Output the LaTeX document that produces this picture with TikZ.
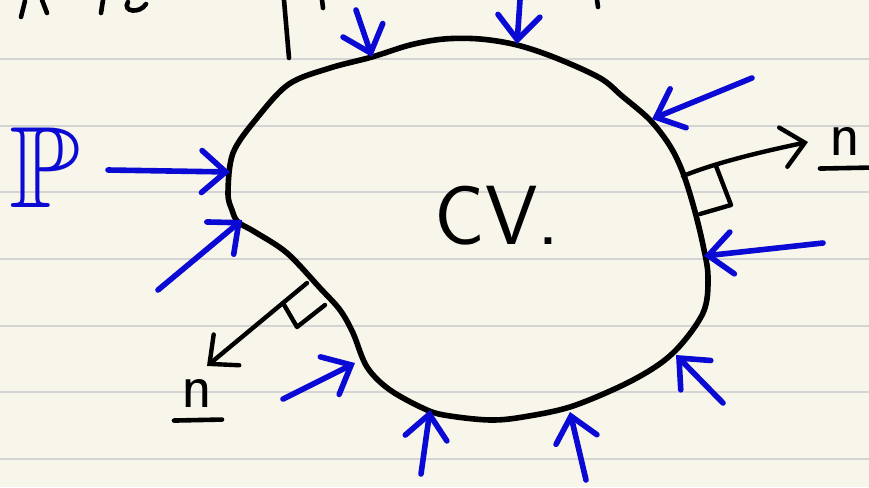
\documentclass[tikz,border=0pt]{standalone}
\usepackage{amssymb}
\usepackage{tikz}
\usetikzlibrary{arrows.meta, calc}
\definecolor{paperbg}{HTML}{F8F6EA}
\definecolor{paperrule}{HTML}{D4D4D4}
\definecolor{penblue}{HTML}{0A0AD4}
\definecolor{penblack}{HTML}{000000}

\begin{document}
\begin{tikzpicture}[x=1pt, y=-1pt,
    press/.style={draw=penblue, line width=5.6pt, line cap=round, line join=round,
      -{Straight Barb[length=24pt, width=42pt, line cap=round]}},
    normal/.style={draw=penblack, line width=4.4pt, line cap=round, line join=round,
      -{Straight Barb[length=22pt, width=40pt, line cap=round]}},
    square/.style={draw=penblack, line width=4.4pt, line cap=round, line join=round},
    ink/.style={draw=penblack, line width=4.6pt, line cap=round}]
  % paper
  \fill[paperbg] (0,0) rectangle (869,487);
  \useasboundingbox (0,0) rectangle (869,487);
  \foreach \y in {59,126,192,259,326,392,459}
    \draw[paperrule, line width=1.6pt] (0,\y) -- (869,\y);

  % cut-off handwriting at the top
  \draw[ink] (284,0) -- (289,58);
  \draw[ink] (21,17) -- (25,1);
  \draw[ink] (47,13) -- (42,0);
  \draw[ink] (101,13) -- (103,0);
  \draw[ink] (128,2) .. controls (122,12) and (140,14) .. (146,4);
  \draw[ink] (322,0) -- (323,8);
  \draw[ink] (597,0) -- (598,7);

  % control volume
  \draw[penblack, line width=5.6pt, line join=round]
    plot[smooth cycle, tension=0.55] coordinates {
      (228,193) (233,153) (257,118) (289,84) (330,68) (372,57) (410,45)
      (444,39) (480,39) (517,45) (556,58) (600,78) (622,96) (650,120)
      (670,146) (683,173) (694,208) (703,245) (708,277) (703,313)
      (673,353) (633,380) (573,406) (523,417) (490,420) (450,416)
      (427,410) (390,390) (367,367) (353,333) (340,310) (320,288)
      (287,253) (255,232) (238,222) (232,210)};

  \node[text=penblack, font=\fontsize{84}{84}\sffamily] (cv) at (497,216) {CV.};

  % pressure on the surface
  \foreach \tx/\ty/\hx/\hy [count=\i] in {
      356/10/372/57, 520/0/517/44, 752/78/652/119, 823/243/704/256,
      723/403/676/355, 586/480/570/412, 421/474/430/410, 283/399/355/363,
      158/290/242/220, 108/170/230/172} {
    \coordinate (pt\i) at (\tx,\ty);
    \coordinate (ph\i) at (\hx,\hy);
    \draw[press] (pt\i) -- (ph\i);
  }

  \node[text=penblue, font=\fontsize{116}{116}\selectfont] (pp) at (45,168) {$\mathbb{P}$};

  % outward normals
  \coordinate (nrbase) at (683,176);
  \coordinate (nrtip) at (808,142);
  \draw[normal] (nrbase) .. controls (715,163) and (760,152) .. (nrtip);
  \coordinate (sqr1) at (716,166);
  \coordinate (sqr2) at (731,205);
  \coordinate (sqr3) at (700,214);
  \draw[square] (sqr1) -- (sqr2) -- (sqr3);
  \node[text=penblack, font=\fontsize{64}{64}\sffamily] (nr) at (845,141) {n};
  \draw[ink] ($(nr.south west)+(-6,10)$) -- ($(nr.south east)+(8,9)$);

  \coordinate (nlbase) at (307,283);
  \coordinate (nltip) at (207,366);
  \draw[normal] (nlbase) -- (nltip);
  \coordinate (sql1) at (283,303);
  \coordinate (sql2) at (297,327);
  \coordinate (sql3) at (325,305);
  \draw[square] (sql1) -- (sql2) -- (sql3);
  \node[text=penblack, font=\fontsize{64}{64}\sffamily] (nl) at (197,393) {n};
  \draw[ink] ($(nl.south west)+(-4,10)$) -- ($(nl.south east)+(6,9)$);
\end{tikzpicture}
\end{document}
